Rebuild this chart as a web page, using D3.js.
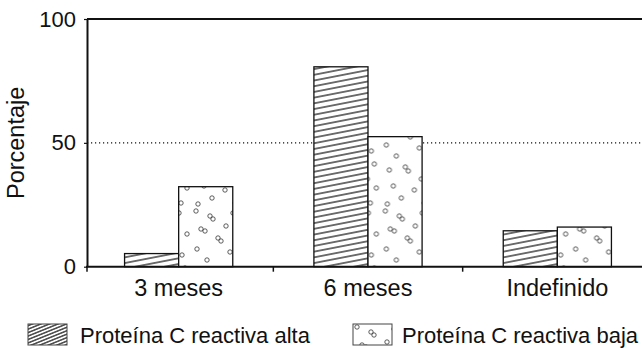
<!DOCTYPE html>
<html>
<head>
<meta charset="utf-8">
<script src="https://cdn.jsdelivr.net/npm/d3@7"></script>
<style>
  body { margin: 0; background: #fff; }
  svg { display: block; font-family: "Liberation Sans", Arial, Helvetica, sans-serif; }
</style>
</head>
<body>
<svg id="chart" width="642" height="348"></svg>
<script>
// data
const categories = ['3 meses', '6 meses', 'Indefinido'];
const seriesNames = ['Proteína C reactiva alta', 'Proteína C reactiva baja'];
const alta = [5.3, 80.7, 14.5];
const baja = [32.3, 52.5, 16.0];
const yTicks = [0, 50, 100];

const svg = d3.select('#chart');
const plotLeft = 87, plotRight = 645, plotTop = 19, plotBottom = 266.7;

const x = d3.scaleBand().domain(categories).range([84, 652]);
const xSub = d3.scaleBand().domain(seriesNames).range([0, x.bandwidth()])
  .paddingInner(0).paddingOuter(0.75);
const y = d3.scaleLinear().domain([0, 100]).range([plotBottom, plotTop]);

// fill patterns
const defs = svg.append('defs');

function hatch(id, gap, angle) {
  const p = defs.append('pattern')
    .attr('id', id)
    .attr('patternUnits', 'userSpaceOnUse')
    .attr('width', 8).attr('height', gap)
    .attr('patternTransform', 'rotate(' + angle + ')');
  p.append('rect').attr('width', 8).attr('height', gap).attr('fill', '#fff');
  p.append('line')
    .attr('x1', 0).attr('x2', 8)
    .attr('y1', gap / 2).attr('y2', gap / 2)
    .attr('stroke', '#000').attr('stroke-width', 1.1);
}
hatch('hatch', 5.6, -11);
hatch('hatchLegend', 3.2, -22);

// scattered circles texture (hand placed, irregular)
const dotTile = [[4,3],[18,8],[21,11],[41,5],[9,21],[13,23],[34,18],[49,26],[26,30],
  [29,33],[5,41],[38,44],[44,47],[15,52],[47,60],[8,66],[24,63],[27,67],[40,75],
  [12,82],[33,86],[49,84],[20,94],[6,100],[43,99]];
const dp = defs.append('pattern')
  .attr('id', 'dots')
  .attr('patternUnits', 'userSpaceOnUse')
  .attr('width', 54).attr('height', 104);
dp.append('rect').attr('width', 54).attr('height', 104).attr('fill', '#fff');
dp.selectAll('circle').data(dotTile).enter().append('circle')
  .attr('cx', d => d[0]).attr('cy', d => d[1]).attr('r', 2.2)
  .attr('fill', 'none').attr('stroke', '#333').attr('stroke-width', 0.8);

// dotted reference line at 50
svg.append('line')
  .attr('x1', plotLeft).attr('x2', plotRight)
  .attr('y1', y(50)).attr('y2', y(50))
  .attr('stroke', '#111').attr('stroke-width', 1.2)
  .attr('stroke-dasharray', '1.2,2.8');

// top frame
svg.append('line')
  .attr('x1', plotLeft).attr('x2', plotRight)
  .attr('y1', plotTop).attr('y2', plotTop)
  .attr('stroke', '#111').attr('stroke-width', 2);

// bars
const groups = svg.selectAll('.grp')
  .data(categories.map((c, i) => ({cat: c, values: [
    {s: seriesNames[0], v: alta[i]},
    {s: seriesNames[1], v: baja[i]}
  ]})))
  .enter().append('g')
  .attr('class', 'grp')
  .attr('transform', d => 'translate(' + x(d.cat) + ',0)');

groups.selectAll('rect').data(d => d.values).enter().append('rect')
  .attr('x', d => xSub(d.s))
  .attr('width', xSub.bandwidth())
  .attr('y', d => y(d.v))
  .attr('height', d => y(0) - y(d.v))
  .attr('fill', (d, i) => i === 0 ? 'url(#hatch)' : 'url(#dots)')
  .attr('stroke', '#111')
  .attr('stroke-width', 1.3);

// y axis
const yAxis = svg.append('g')
  .attr('transform', 'translate(' + plotLeft + ',0)')
  .call(d3.axisLeft(y).tickValues(yTicks).tickSize(3).tickSizeOuter(0).tickPadding(8));
yAxis.select('.domain').attr('stroke', '#111').attr('stroke-width', 2);
yAxis.selectAll('.tick line').attr('stroke', '#111').attr('stroke-width', 1.2);
yAxis.selectAll('text').attr('font-size', 22).attr('fill', '#111')
  .attr('font-family', '"Liberation Sans", Arial, sans-serif');

// x axis
const xAxis = svg.append('g')
  .attr('transform', 'translate(0,' + plotBottom + ')')
  .call(d3.axisBottom(x).tickSize(0).tickPadding(13));
xAxis.select('.domain').remove();
xAxis.selectAll('text').attr('font-size', 23.5).attr('fill', '#111')
  .attr('font-family', '"Liberation Sans", Arial, sans-serif');

svg.append('line')
  .attr('x1', plotLeft - 1).attr('x2', plotRight)
  .attr('y1', plotBottom).attr('y2', plotBottom)
  .attr('stroke', '#111').attr('stroke-width', 2);

// boundary ticks between categories
const boundaries = [plotLeft].concat(categories.slice(1).map(c => x(c)));
svg.selectAll('.btick').data(boundaries).enter().append('line')
  .attr('class', 'btick')
  .attr('x1', d => d).attr('x2', d => d)
  .attr('y1', plotBottom).attr('y2', plotBottom + 5)
  .attr('stroke', '#111').attr('stroke-width', 1.5);

// y axis title
svg.append('text')
  .attr('transform', 'translate(24,' + ((plotTop + plotBottom) / 2) + ') rotate(-90)')
  .attr('text-anchor', 'middle')
  .attr('font-size', 23.5)
  .attr('fill', '#111')
  .text('Porcentaje');

// legend
const legendX = [28, 353];
const legend = svg.selectAll('.leg').data(seriesNames).enter().append('g')
  .attr('class', 'leg')
  .attr('transform', (d, i) => 'translate(' + legendX[i] + ',324)');
legend.append('rect')
  .attr('width', 39).attr('height', 21)
  .attr('fill', (d, i) => i === 0 ? 'url(#hatchLegend)' : 'url(#dots)')
  .attr('stroke', '#444').attr('stroke-width', 1);
legend.append('text')
  .attr('x', (d, i) => i === 0 ? 52 : 49)
  .attr('y', 19)
  .attr('font-size', 22)
  .attr('fill', '#111')
  .text(d => d);
</script>
</body>
</html>
